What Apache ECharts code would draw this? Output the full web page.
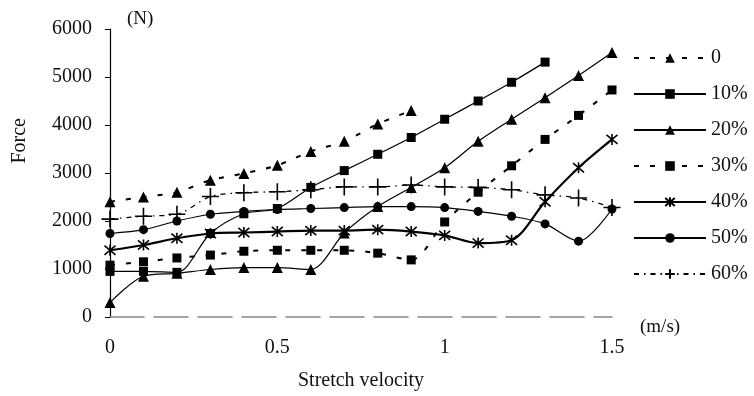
<!DOCTYPE html>
<html>
<head>
<meta charset="utf-8">
<script src="https://cdn.jsdelivr.net/npm/echarts@6/dist/echarts.min.js"></script>
<style>
  html, body { margin: 0; padding: 0; background: #fff; }
  #chart { width: 754px; height: 396px; }
</style>
</head>
<body>
<div id="chart"></div>
<script>
// Stretch velocity (m/s) sampled every 0.1
const velocity = [0, 0.1, 0.2, 0.3, 0.4, 0.5, 0.6, 0.7, 0.8, 0.9, 1.0, 1.1, 1.2, 1.3, 1.4, 1.5];

// Force (N) for each setting
const force0  = [2400, 2500, 2600, 2850, 2990, 3160, 3450, 3660, 4020, 4300, null, null, null, null, null, null];
const force10 = [950, 950, 930, 1740, 2150, 2260, 2700, 3050, 3390, 3740, 4120, 4500, 4890, 5310, null, null];
const force20 = [300, 850, 910, 990, 1030, 1030, 990, 1750, 2300, 2700, 3110, 3660, 4120, 4570, 5030, 5510];
const force30 = [1080, 1150, 1230, 1290, 1370, 1390, 1390, 1390, 1330, 1190, 1980, 2600, 3150, 3700, 4200, 4730];
const force40 = [1390, 1500, 1640, 1740, 1760, 1780, 1800, 1800, 1820, 1780, 1700, 1540, 1600, 2400, 3110, 3700];
const force50 = [1740, 1820, 2000, 2140, 2200, 2240, 2260, 2280, 2300, 2300, 2280, 2200, 2100, 1940, 1580, 2250];
const force60 = [2040, 2100, 2140, 2510, 2590, 2610, 2650, 2710, 2710, 2750, 2710, 2700, 2650, 2545, 2480, 2280];

const seriesNames = ['0', '10%', '20%', '30%', '40%', '50%', '60%'];
const yTicks = { min: 0, max: 6000, step: 1000 };

const serif = '"Liberation Serif", "DejaVu Serif", serif';
const ink = '#111';

const pairs = vals => velocity.map((v, i) => [v, vals[i]]);

const asterisk = 'path://M0,0L10,10M10,0L0,10M5,-1L5,11';
const plus = 'path://M6,0L6,12M0,6L12,6';

function filled(name, vals, symbol, size, line) {
  return {
    name, type: 'line', data: pairs(vals), smooth: 0.3,
    symbol, symbolSize: size, showAllSymbol: true,
    itemStyle: { color: '#000' },
    lineStyle: Object.assign({ color: '#000', width: 1.2 }, line)
  };
}
function stroked(name, vals, symbol, size, line) {
  return {
    name, type: 'line', data: pairs(vals), smooth: 0.3,
    symbol, symbolSize: size, showAllSymbol: true,
    itemStyle: { color: 'rgba(0,0,0,0)', borderColor: '#000', borderWidth: 1.6 },
    lineStyle: Object.assign({ color: '#000', width: 1.2 }, line)
  };
}

const chart = echarts.init(document.getElementById('chart'), null, { renderer: 'canvas' });

chart.setOption({
  animation: false,
  backgroundColor: '#fff',
  grid: { left: 110, right: 142, top: 29, bottom: 70, containLabel: false },
  legend: {
    orient: 'vertical',
    left: 628,
    top: 43,
    itemWidth: 72,
    itemHeight: 12,
    itemGap: 16,
    data: seriesNames,
    textStyle: { fontFamily: serif, fontSize: 20, color: ink, padding: [0, 0, 0, 0] }
  },
  xAxis: {
    type: 'value',
    min: 0, max: 1.5, interval: 0.5,
    axisLine: { show: true, onZero: false, lineStyle: { color: '#888', width: 1.5, type: [34, 10] } },
    axisTick: { show: false },
    splitLine: { show: false },
    axisLabel: { fontFamily: serif, fontSize: 20, color: ink, margin: 21 },
    name: 'Stretch velocity',
    nameLocation: 'middle',
    nameGap: 54,
    nameTextStyle: { fontFamily: serif, fontSize: 20, color: ink }
  },
  yAxis: {
    type: 'value',
    min: yTicks.min, max: yTicks.max, interval: yTicks.step,
    axisLine: { show: true, lineStyle: { color: '#000', width: 1.2 } },
    axisTick: { show: true, inside: false, length: 5, lineStyle: { color: '#000' } },
    splitLine: { show: false },
    axisLabel: { fontFamily: serif, fontSize: 20, color: ink, margin: 18, formatter: v => String(v) }
  },
  graphic: [
    { type: 'text', left: 10, top: 118, rotation: Math.PI / 2,
      style: { text: 'Force', font: '20px ' + serif, fill: ink } },
    { type: 'text', left: 127, top: 10,
      style: { text: '(N)', font: '19px ' + serif, fill: ink } },
    { type: 'text', left: 640, top: 318,
      style: { text: '(m/s)', font: '19px ' + serif, fill: ink } }
  ],
  series: [
    filled('0', force0, 'triangle', 11, { type: [5, 11], width: 2 }),
    filled('10%', force10, 'rect', 9, {}),
    filled('20%', force20, 'triangle', 11, {}),
    filled('30%', force30, 'rect', 9, { type: [5, 11], width: 2 }),
    stroked('40%', force40, asterisk, 11, { width: 2.2 }),
    filled('50%', force50, 'circle', 9, {}),
    stroked('60%', force60, plus, 17, { type: [5, 5, 1.5, 5], width: 1.3 })
  ]
});
</script>
</body>
</html>
